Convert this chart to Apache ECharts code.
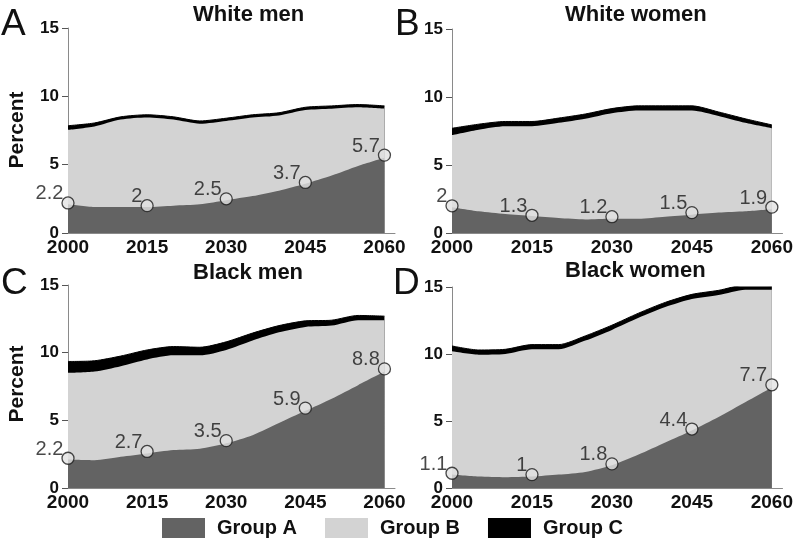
<!DOCTYPE html>
<html>
<head>
<meta charset="utf-8">
<script src="https://cdn.jsdelivr.net/npm/echarts@6/dist/echarts.min.js"></script>
<style>
  html, body { margin: 0; padding: 0; background: #fff; }
  #chart { width: 796px; height: 543px; }
</style>
</head>
<body>
<div id="chart"></div>
<script>
// years on the x axis (every 5 years)
const years = [2000, 2005, 2010, 2015, 2020, 2025, 2030, 2035, 2040, 2045, 2050, 2055, 2060]
const markYears = [2000, 2015, 2030, 2045, 2060]
const groupNames = ['Group A', 'Group B', 'Group C']
const panelTitles = ['White men', 'White women', 'Black men', 'Black women']
const panelLetters = ['A', 'B', 'C', 'D']

// White men
const wmA = [2.1, 1.9, 1.9, 1.9, 2.0, 2.1, 2.4, 2.7, 3.1, 3.6, 4.2, 4.9, 5.5]
const wmB = [5.45, 5.9, 6.4, 6.55, 6.3, 5.9, 5.8, 5.75, 5.5, 5.4, 4.9, 4.3, 3.6]
const wmC = [0.3, 0.25, 0.2, 0.2, 0.2, 0.2, 0.2, 0.2, 0.2, 0.2, 0.2, 0.2, 0.2]
const wmMarks = [2.2, 2, 2.5, 3.7, 5.7]

// White women
const wwA = [1.9, 1.6, 1.4, 1.25, 1.1, 1.0, 1.05, 1.05, 1.2, 1.35, 1.5, 1.6, 1.75]
const wwB = [5.3, 6.0, 6.45, 6.6, 7.0, 7.4, 7.75, 7.95, 7.8, 7.65, 7.1, 6.5, 5.95]
const wwC = [0.5, 0.4, 0.35, 0.35, 0.35, 0.35, 0.35, 0.35, 0.35, 0.35, 0.3, 0.3, 0.25]
const wwMarks = [2, 1.3, 1.2, 1.5, 1.9]

// Black men
const bmA = [2.1, 2.05, 2.3, 2.55, 2.8, 2.9, 3.3, 3.9, 4.8, 5.7, 6.6, 7.6, 8.6]
const bmB = [6.4, 6.55, 6.7, 6.95, 7.0, 6.9, 6.9, 7.0, 6.7, 6.2, 5.4, 4.8, 3.8]
const bmC = [0.85, 0.8, 0.75, 0.7, 0.65, 0.6, 0.6, 0.55, 0.5, 0.45, 0.4, 0.35, 0.3]
const bmMarks = [2.2, 2.7, 3.5, 5.9, 8.8]

// Black women
const bwA = [1.0, 0.85, 0.8, 0.85, 1.0, 1.2, 1.7, 2.5, 3.4, 4.3, 5.3, 6.4, 7.5]
const bwB = [9.2, 9.1, 9.2, 9.5, 9.35, 9.8, 10.1, 10.2, 10.1, 9.8, 9.1, 8.4, 7.3]
const bwC = [0.4, 0.35, 0.35, 0.35, 0.35, 0.35, 0.35, 0.35, 0.35, 0.35, 0.35, 0.35, 0.3]
const bwMarks = [1.1, 1, 1.8, 4.4, 7.7]

const panels = [
    [wmA, wmB, wmC, wmMarks],
    [wwA, wwB, wwC, wwMarks],
    [bmA, bmB, bmC, bmMarks],
    [bwA, bwB, bwC, bwMarks],
]

const colors = ['#636363', '#d3d3d3', '#000000']
const font = '"Liberation Sans", Arial, sans-serif'

const grids = [
    { left: 68, top: 28, width: 327, height: 205 },
    { left: 452, top: 29, width: 333, height: 204 },
    { left: 68, top: 285, width: 327, height: 203 },
    { left: 452, top: 287, width: 333, height: 201 },
]
const titlePos = [[193, 4], [565, 4], [193, 262], [565, 260]]
const letterPos = [[1, 6], [395, 6], [1, 265], [393, 265]]

const chart = echarts.init(document.getElementById('chart'))

const xAxis = []
const yAxis = []
const series = []
panels.forEach((p, i) => {
    xAxis.push({
        gridIndex: i,
        type: 'value',
        min: 2000,
        max: 2062,
        interval: 15,
        splitLine: { show: false },
        axisTick: { show: false },
        axisLine: { lineStyle: { color: '#8a8a8a', width: 1 } },
        axisLabel: {
            margin: 5,
            color: '#111',
            fontSize: 19,
            fontWeight: 'bold',
            fontFamily: font,
            formatter: v => ((v - 2000) % 15 === 0 ? String(v) : ''),
        },
    })
    yAxis.push({
        gridIndex: i,
        type: 'value',
        min: 0,
        max: 15,
        interval: 5,
        splitLine: { show: false },
        axisLine: { show: true, lineStyle: { color: '#8a8a8a', width: 1 } },
        axisTick: { show: true, length: 6, lineStyle: { color: '#555' } },
        axisLabel: {
            margin: 9,
            color: '#111',
            fontSize: 17,
            fontWeight: 'bold',
            fontFamily: font,
        },
    })
    // cumulative tops, drawn from the highest layer down so each lower one covers the rest
    const tops = [
        p[0].map(v => v),
        p[0].map((v, k) => v + p[1][k]),
        p[0].map((v, k) => v + p[1][k] + p[2][k]),
    ]
    for (let g = 2; g >= 0; g--) {
        series.push({
            name: groupNames[g],
            type: 'line',
            xAxisIndex: i,
            yAxisIndex: i,
            smooth: 0.25,
            showSymbol: false,
            symbol: 'none',
            silent: true,
            lineStyle: g === 2 ? { width: 1, color: '#000' } : { width: 0, opacity: 0 },
            areaStyle: { color: colors[g], opacity: 1 },
            itemStyle: { color: colors[g] },
            data: years.map((y, k) => [y, tops[g][k]]),
        })
    }
    series.push({
        name: 'marks' + i,
        type: 'scatter',
        xAxisIndex: i,
        yAxisIndex: i,
        z: 5,
        symbol: 'circle',
        symbolSize: 12,
        itemStyle: { color: '#e2e2e2', borderColor: '#1a1a1a', borderWidth: 1.3 },
        label: {
            show: true,
            position: 'left',
            distance: 0,
            offset: [2, -9],
            color: '#1a1a1a',
            fontSize: 20,
            fontFamily: font,
            formatter: d => String(d.value[1]),
        },
        data: markYears.map((y, k) => [y, p[3][k]]),
    })
})

const graphic = []
panelLetters.forEach((t, i) => {
    graphic.push({
        type: 'text',
        left: letterPos[i][0],
        top: letterPos[i][1],
        style: { text: t, font: '37px ' + font, fill: '#111' },
    })
})
;[130, 384].forEach(cy => {
    graphic.push({
        type: 'text',
        x: 17,
        y: cy,
        rotation: Math.PI / 2,
        style: {
            text: 'Percent',
            font: 'bold 21px ' + font,
            fill: '#111',
            align: 'center',
            verticalAlign: 'middle',
        },
    })
})

chart.setOption({
    animation: false,
    backgroundColor: '#fff',
    title: panelTitles.map((t, i) => ({
        text: t,
        left: titlePos[i][0],
        top: titlePos[i][1],
        padding: 0,
        textStyle: { fontSize: 22, fontWeight: 'bold', color: '#111', fontFamily: font },
    })),
    legend: {
        data: groupNames,
        left: 162,
        top: 518,
        itemWidth: 43,
        itemHeight: 20,
        itemGap: 28,
        icon: 'rect',
        padding: 0,
        selectedMode: false,
        textStyle: { fontSize: 20, fontWeight: 'bold', color: '#111', fontFamily: font, padding: [0, 0, 0, 7] },
    },
    grid: grids,
    xAxis,
    yAxis,
    series,
    graphic,
})
</script>
</body>
</html>
